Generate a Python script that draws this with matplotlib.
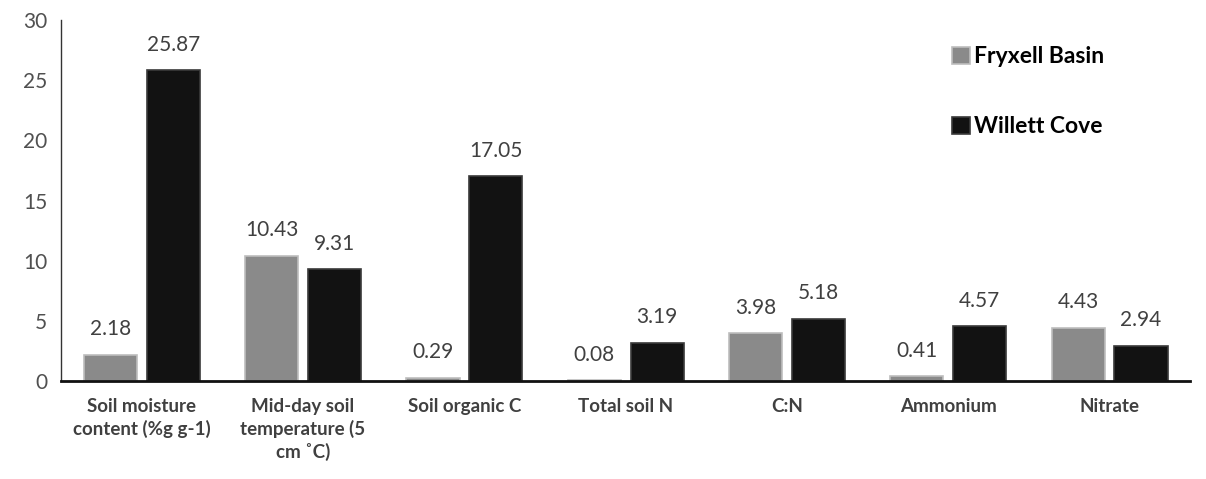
import matplotlib.pyplot as plt
import numpy as np

# Data
categories = ["Soil moisture\ncontent (%g g-1)", "Mid-day soil\ntemperature (5\ncm \u02daC)",
              "Soil organic C", "Total soil N", "C:N", "Ammonium", "Nitrate"]
fryxell = [2.18, 10.43, 0.29, 0.08, 3.98, 0.41, 4.43]
willett = [25.87, 9.31, 17.05, 3.19, 5.18, 4.57, 2.94]
series_names = ["Fryxell Basin", "Willett Cove"]
yticks = [0, 5, 10, 15, 20, 25, 30]

plt.rcParams['font.family'] = ['Lato', 'DejaVu Sans']

fig = plt.figure(figsize=(12.06, 4.79), dpi=100)
ax = fig.add_axes([0.0506, 0.2046, 0.9364, 0.7534])

x = np.arange(len(categories))
w = 0.33
off = 0.195
b1 = ax.bar(x - off, fryxell, w, color="#8a8a8a", edgecolor="#bdbdbd", linewidth=1.2,
            label=series_names[0])
b2 = ax.bar(x + off, willett, w, color="#121212", edgecolor="#3a3a3a", linewidth=1.2,
            label=series_names[1])

for bars, vals in [(b1, fryxell), (b2, willett)]:
    for rect, v in zip(bars, vals):
        ax.annotate("{:.2f}".format(v), (rect.get_x() + rect.get_width() / 2, v),
                    xytext=(0, 11), textcoords="offset points", ha="center", va="bottom",
                    fontsize=15, color="#404040")

ax.set_xlim(-0.5, len(categories) - 0.5)
ax.set_ylim(0, 30)
ax.set_yticks(yticks)
ax.set_xticks(x)
ax.set_xticklabels(categories, fontsize=13.5, fontweight="bold", color="#404040",
                   linespacing=1.35)
ax.tick_params(axis="y", length=0, labelsize=15, labelcolor="#505050", pad=10)
ax.tick_params(axis="x", length=0, pad=12)

for s in ["top", "right"]:
    ax.spines[s].set_visible(False)
ax.spines["left"].set_color("#333333")
ax.spines["left"].set_linewidth(1.0)
ax.spines["bottom"].set_color("#111111")
ax.spines["bottom"].set_linewidth(2.0)

leg = ax.legend(loc="upper left", bbox_to_anchor=(0.771, 0.985), frameon=False,
                prop={"size": 16.5, "weight": "bold"}, labelspacing=2.15,
                handlelength=0.75, handleheight=0.75, handletextpad=0.2)

fig.savefig("out.png", dpi=100)
